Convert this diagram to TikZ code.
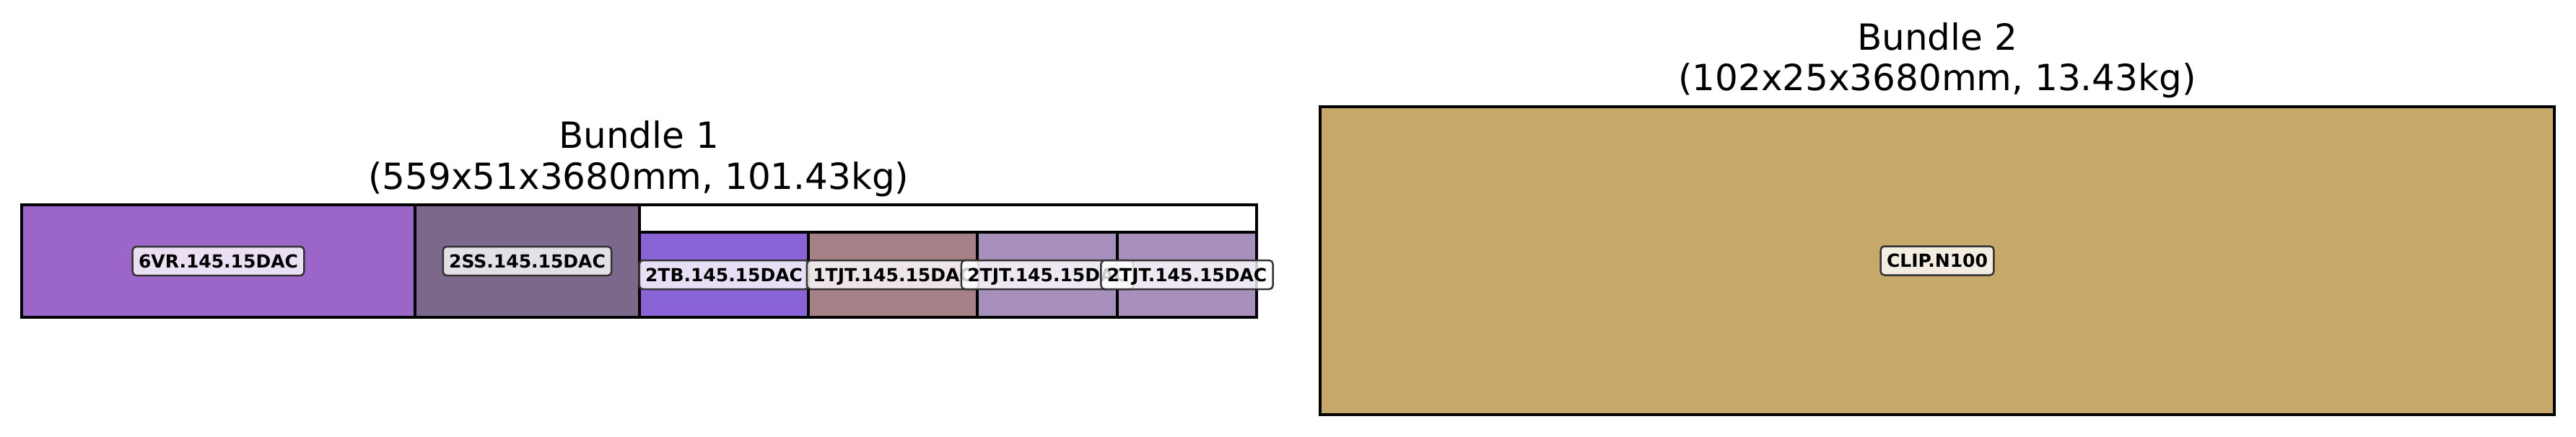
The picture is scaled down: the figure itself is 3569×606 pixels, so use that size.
\documentclass[tikz,border=0pt]{standalone}
\usepackage{fontspec}
\setmainfont{DejaVu Sans}
\usetikzlibrary{fit}
\definecolor{cVR}{HTML}{9B66C7}
\definecolor{cSS}{HTML}{7B688B}
\definecolor{cTB}{HTML}{8A63D6}
\definecolor{cTJa}{HTML}{A68087}
\definecolor{cTJb}{HTML}{A890BD}
\definecolor{cClip}{HTML}{C5A86A}
\definecolor{lblEdge}{HTML}{333333}
\tikzset{
  cell/.style={draw=black, line width=0.9pt, inner sep=0pt, outer sep=0pt},
  lbl/.style={draw=lblEdge, line width=0.6pt, fill=white, fill opacity=0.8, text opacity=1,
    rounded corners=1.2pt, font=\fontsize{6}{7}\selectfont\bfseries,
    text height=4.4pt, text depth=0pt, minimum height=9.6pt, inner xsep=2pt, inner ysep=0pt},
  ttl/.style={font=\fontsize{12}{14}\selectfont, anchor=base, inner sep=0pt}
}
\begin{document}
\begin{tikzpicture}[x=0.24pt, y=-0.24pt]
\useasboundingbox (0,0) rectangle (3569,606);
% Bundle 1
\node[cell, fill=white, fit={(30,284) (1741,440)}] (b1) {};
\node[cell, fill=cVR, fit={(30,284) (575,440)}] (c1) {};
\node[cell, fill=cSS, fit={(575,284) (886,440)}] (c2) {};
\node[cell, fill=cTB, fit={(886,322) (1120,440)}] (c3) {};
\node[cell, fill=cTJa, fit={(1120,322) (1354,440)}] (c4) {};
\node[cell, fill=cTJb, fit={(1354,322) (1548,440)}] (c5) {};
\node[cell, fill=cTJb, fit={(1548,322) (1741,440)}] (c6) {};
\node[cell, fit={(30,284) (1741,440)}] (b1o) {};
\node[lbl] (l1) at (c1.center) {6VR.145.15DAC};
\node[lbl] (l2) at (c2.center) {2SS.145.15DAC};
\node[lbl] (l3) at (c3.center) {2TB.145.15DAC};
\node[lbl] (l4) at (c4.center) {1TJT.145.15DAC};
\node[lbl] (l5) at (c5.center) {2TJT.145.15DAC};
\node[lbl] (l6) at (c6.center) {2TJT.145.15DAC};
\node[ttl] (t1a) at (885,205) {Bundle 1};
\node[ttl] (t1b) at (885,262) {(559x51x3680mm, 101.43kg)};
% Bundle 2
\node[cell, fill=cClip, fit={(1829,148) (3539,575)}] (c7) {};
\node[lbl] (l7) at (c7.center) {CLIP.N100};
\node[ttl] (t2a) at (2684,69) {Bundle 2};
\node[ttl] (t2b) at (2684,125) {(102x25x3680mm, 13.43kg)};
\end{tikzpicture}
\end{document}
